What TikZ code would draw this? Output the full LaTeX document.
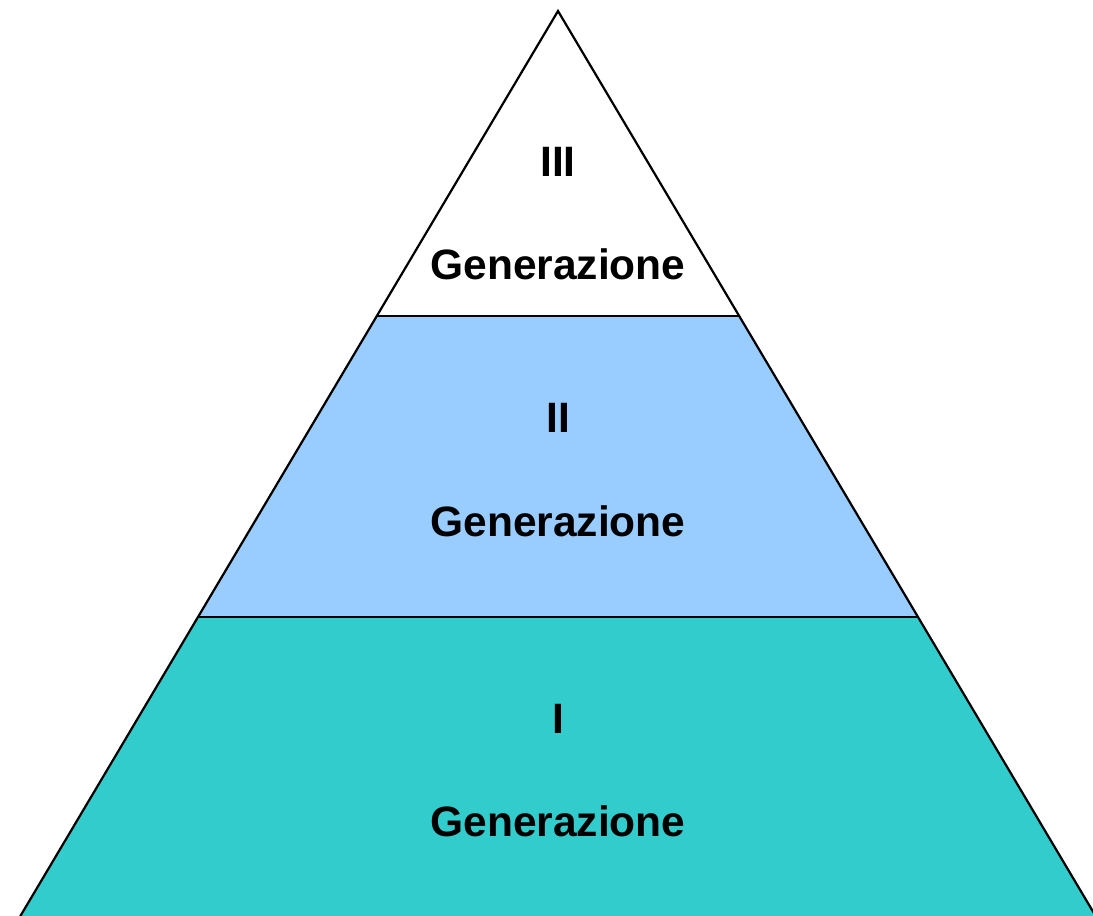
\documentclass[tikz,border=0pt]{standalone}
\usepackage{fontspec}
\setmainfont{Liberation Sans}
\definecolor{lightblue}{HTML}{99CCFF}
\definecolor{teal2}{HTML}{33CCCC}
\begin{document}
\begin{tikzpicture}[x=1pt,y=-1pt,
  edge/.style={draw=black,line width=2.2pt,line join=miter},
  lbl/.style={font=\fontsize{42.5}{50}\selectfont\bfseries,anchor=base,inner sep=0pt}]
\useasboundingbox (0,0) rectangle (1093,916);
\coordinate (apex) at (558,11);
\coordinate (l1) at (377,316);
\coordinate (r1) at (739,316);
\coordinate (l2) at (198,617);
\coordinate (r2) at (918,617);
\coordinate (l3) at (18,920);
\coordinate (r3) at (1098,920);
\fill[white] (apex) -- (r1) -- (l1) -- cycle;
\fill[lightblue] (l1) -- (r1) -- (r2) -- (l2) -- cycle;
\fill[teal2] (l2) -- (r2) -- (r3) -- (l3) -- cycle;
\draw[edge] (l3) -- (apex) -- (r3);
\draw[edge] (l1) -- (r1);
\draw[edge] (l2) -- (r2);
\node[lbl] (t3) at (558,176) {III};
\node[lbl] (g3) at (558,279) {Generazione};
\node[lbl] (t2) at (558,432) {II};
\node[lbl] (g2) at (558,536) {Generazione};
\node[lbl] (t1) at (558,733) {I};
\node[lbl] (g1) at (558,836) {Generazione};
\end{tikzpicture}
\end{document}
